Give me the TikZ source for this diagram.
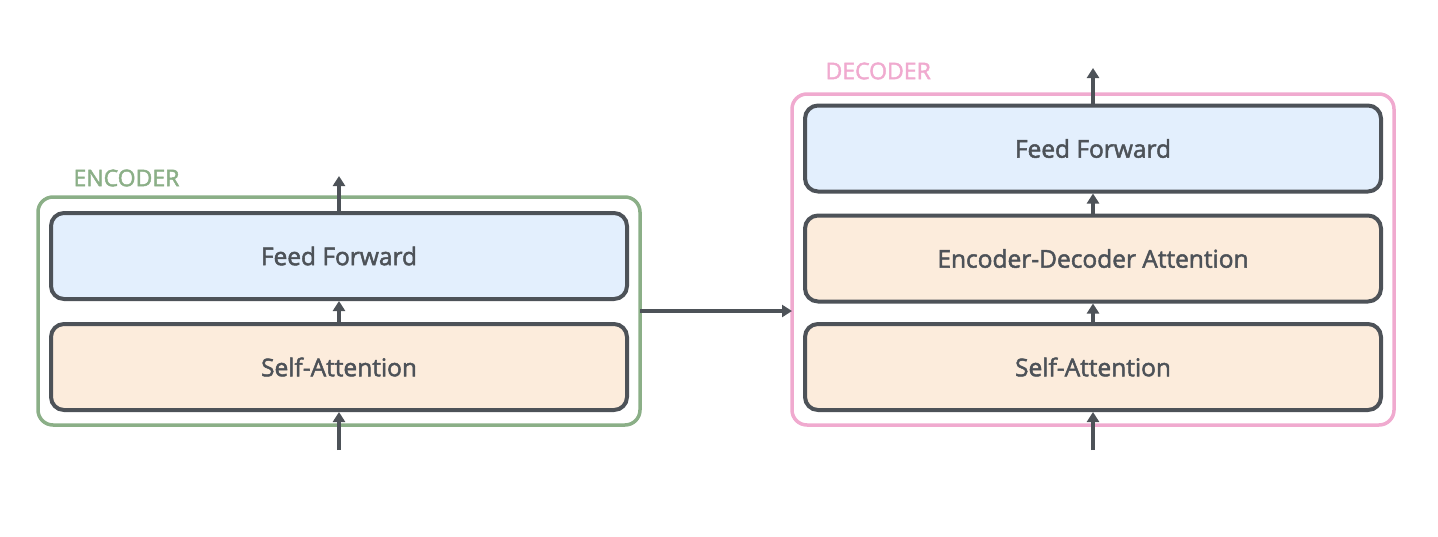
\documentclass[tikz,border=0pt]{standalone}
\usepackage{fontspec}
\setmainfont{Open Sans}
\newfontfamily\semi[FakeBold=2]{Open Sans}
\usetikzlibrary{arrows.meta}
\definecolor{dk}{HTML}{4D5258}
\definecolor{ffb}{HTML}{E3EFFD}
\definecolor{sab}{HTML}{FCECDC}
\definecolor{enc}{HTML}{8BAF87}
\definecolor{dec}{HTML}{F0AACF}
\begin{document}
\begin{tikzpicture}[x=1pt,y=-1pt,
  layer/.style={draw=dk,line width=4pt,rounded corners=13pt,minimum height=86pt,minimum width=576pt,font=\semi\fontsize{24.5}{28}\selectfont,text=dk},
  outer/.style={line width=3.5pt,rounded corners=15pt},
  arr/.style={draw=dk,line width=3.5pt,-{Triangle[length=10pt,width=12pt]}},
  lab/.style={font=\semi\fontsize{23}{26}\selectfont,anchor=west}]
\useasboundingbox (0,0) rectangle (1438,536);
\draw[outer,draw=enc] (38,197) rectangle (640,425);
\node[lab,text=enc] (el) at (70,178) {ENCODER};
\node[layer,fill=ffb] (eff) at (339,256) {Feed Forward};
\node[layer,fill=sab] (esa) at (339,367) {Self-Attention};
\coordinate (ein) at (339,450);
\coordinate (eout) at (339,176);
\draw[arr] (ein) -- (esa.south);
\draw[arr] (esa.north) -- (eff.south);
\draw[arr] (eff.north) -- (eout);
\draw[outer,draw=dec] (792,94) rectangle (1394,425);
\node[lab,text=dec] (dl) at (822,71) {DECODER};
\node[layer,fill=ffb] (dff) at (1093,148.5) {Feed Forward};
\node[layer,fill=sab] (deda) at (1093,258.5) {Encoder-Decoder Attention};
\node[layer,fill=sab] (dsa) at (1093,367) {Self-Attention};
\coordinate (din) at (1093,450);
\coordinate (dout) at (1093,68);
\coordinate (es) at (640,311);
\coordinate (de) at (792,311);
\draw[arr] (din) -- (dsa.south);
\draw[arr] (dsa.north) -- (deda.south);
\draw[arr] (deda.north) -- (dff.south);
\draw[arr] (dff.north) -- (dout);
\draw[arr] (es) -- (de);
\end{tikzpicture}
\end{document}
